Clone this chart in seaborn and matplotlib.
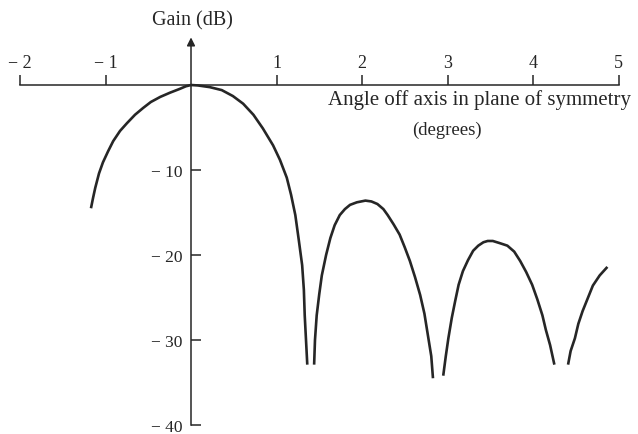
import matplotlib
matplotlib.use("Agg")
import matplotlib.pyplot as plt
import seaborn as sns
import pandas as pd

# Antenna gain pattern (dB) versus angle off axis (degrees), one list per lobe
angle_main = [-1.17, -1.146, -1.12, -1.076, -1.03, -0.97, -0.91, -0.83, -0.75, -0.655,
              -0.56, -0.47, -0.36, -0.245, -0.13, -0.06, 0.0, 0.08, 0.15, 0.22,
              0.36, 0.49, 0.61, 0.73, 0.84, 0.96, 1.04, 1.12, 1.17, 1.22,
              1.26, 1.30, 1.32, 1.33, 1.345, 1.36]
gain_main = [-14.5, -13.3, -12.1, -10.4, -9.1, -7.8, -6.6, -5.4, -4.5, -3.5,
             -2.7, -2.0, -1.4, -0.9, -0.45, -0.15, 0.0, -0.05, -0.15, -0.25,
             -0.6, -1.3, -2.2, -3.5, -5.1, -7.1, -8.8, -10.9, -12.9, -15.3,
             -18.2, -21.2, -24.1, -27.1, -30.0, -32.9]

angle_side1 = [1.44, 1.45, 1.47, 1.50, 1.53, 1.58, 1.63, 1.68, 1.74, 1.80,
               1.86, 1.94, 2.04, 2.11, 2.18, 2.25, 2.30, 2.37, 2.44, 2.50,
               2.56, 2.62, 2.68, 2.73, 2.77, 2.81, 2.83]
gain_side1 = [-32.9, -30.0, -27.1, -24.6, -22.4, -20.0, -18.0, -16.5, -15.3, -14.6,
              -14.1, -13.8, -13.6, -13.7, -14.0, -14.6, -15.3, -16.4, -17.6, -19.1,
              -20.7, -22.6, -24.7, -26.9, -29.4, -31.9, -34.5]

angle_side2 = [2.95, 2.98, 3.01, 3.05, 3.09, 3.13, 3.18, 3.24, 3.30, 3.36,
               3.42, 3.47, 3.53, 3.61, 3.70, 3.78, 3.85, 3.92, 3.99, 4.05,
               4.11, 4.15, 4.20, 4.25]
gain_side2 = [-34.2, -31.9, -29.8, -27.4, -25.4, -23.5, -21.9, -20.6, -19.5, -18.9,
              -18.5, -18.35, -18.35, -18.6, -18.9, -19.6, -20.7, -22.0, -23.5, -25.2,
              -27.1, -28.8, -30.6, -32.9]

angle_side3 = [4.41, 4.44, 4.49, 4.53, 4.58, 4.64, 4.70, 4.78, 4.87]
gain_side3 = [-32.9, -31.3, -29.8, -28.1, -26.6, -25.1, -23.6, -22.4, -21.4]

x_ticks = [-2, -1, 1, 2, 3, 4, 5]
x_labels = ["− 2", "− 1", "1", "2", "3", "4", "5"]
y_ticks = [-10, -20, -30, -40]
y_labels = ["− 10", "− 20", "− 30", "− 40"]

segments = [("main", angle_main, gain_main), ("side1", angle_side1, gain_side1),
            ("side2", angle_side2, gain_side2), ("side3", angle_side3, gain_side3)]
df = pd.concat([pd.DataFrame({"angle": a, "gain": g, "lobe": name})
                for name, a, g in segments], ignore_index=True)

sns.set_theme(style="white")
plt.rcParams["font.family"] = ["Liberation Serif", "DejaVu Serif"]

ink = "#262626"
fig = plt.figure(figsize=(6.38, 4.35), dpi=100)
ax = fig.add_axes([0, 0, 1, 1])
ax.set_facecolor("white")

sns.lineplot(data=df, x="angle", y="gain", units="lobe", estimator=None, sort=False,
             color=ink, lw=1.9, ax=ax, legend=False)
for line in ax.get_lines():
    line.set_solid_joinstyle("round")
    line.set_solid_capstyle("butt")

ax.set_xlim(-2.234, 5.228)
ax.set_ylim(-41.06, 10.12)

# axes cross at the origin: horizontal axis at 0 dB, vertical axis at 0 degrees
for side in ("bottom", "right"):
    ax.spines[side].set_visible(False)
ax.spines["top"].set_position(("data", 0))
ax.spines["top"].set_bounds(-2, 5)
ax.spines["left"].set_position(("data", 0))
ax.spines["left"].set_bounds(-40, 0)
for side in ("top", "left"):
    ax.spines[side].set_color(ink)
    ax.spines[side].set_linewidth(1.1)

ax.xaxis.tick_top()
ax.set_xticks(x_ticks, x_labels)
ax.set_yticks(y_ticks, y_labels)
ax.tick_params(axis="x", top=True, bottom=False, direction="out", length=7,
               width=1.1, color=ink, pad=3, labelsize=13, labelcolor=ink)
ax.tick_params(axis="y", left=True, right=False, direction="in", length=7.5,
               width=1.1, color=ink, pad=6, labelsize=12.5, labelcolor=ink)
ax.set_xlabel("")
ax.set_ylabel("")

# arrow on the gain axis
ax.annotate("", xy=(0, 5.6), xytext=(0, 0),
            arrowprops=dict(arrowstyle="-|>", color=ink, lw=1.1,
                            mutation_scale=12, shrinkA=0, shrinkB=0))

ax.text(0.02, 7.7, "Gain (dB)", ha="center", va="center", fontsize=14.5, color=ink)
ax.text(5.15, -1.6, "Angle off axis in plane of symmetry", ha="right", va="center",
        fontsize=15, color=ink)
ax.text(2.99, -5.2, "(degrees)", ha="center", va="center", fontsize=13.5, color=ink)

fig.savefig("out.png", dpi=100, facecolor="white")
